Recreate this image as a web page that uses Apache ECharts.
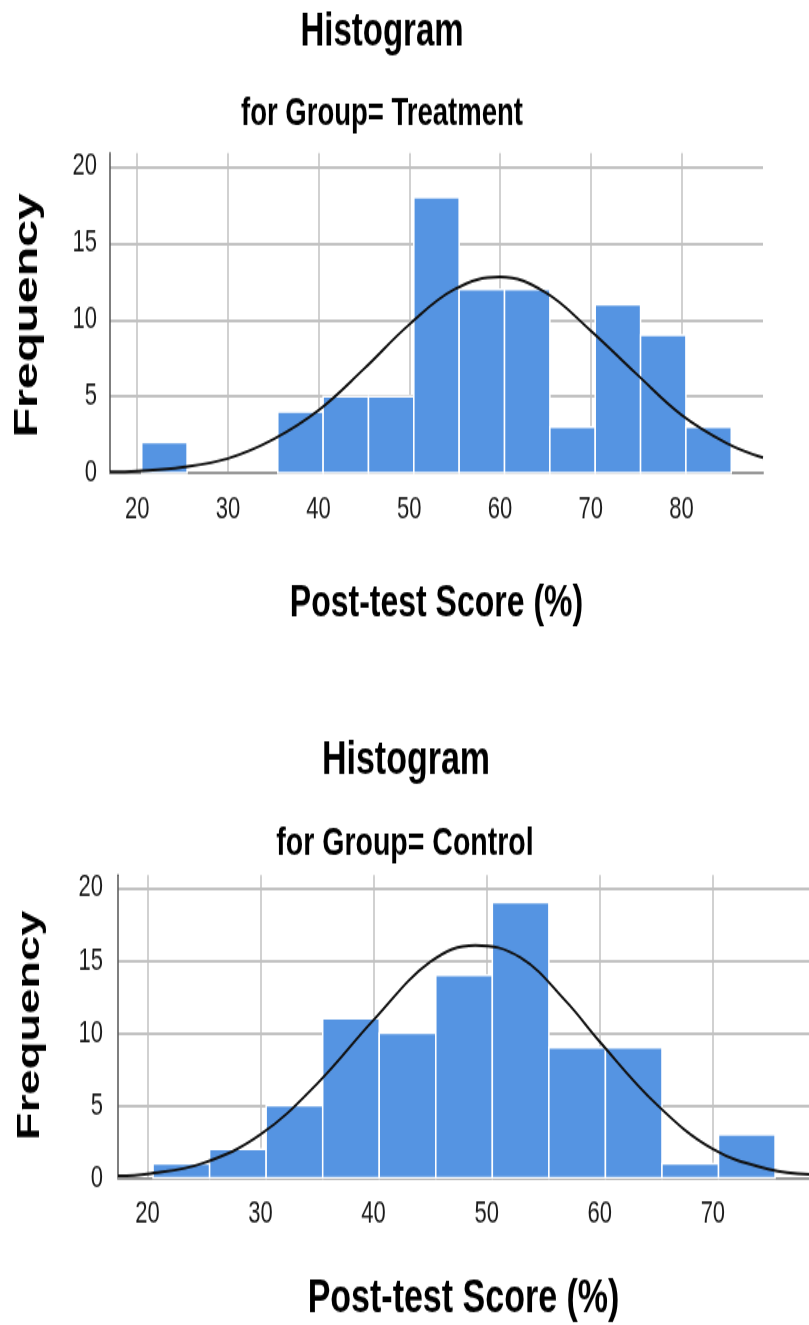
<!DOCTYPE html>
<html>
<head>
<meta charset="utf-8">
<script src="https://cdn.jsdelivr.net/npm/echarts@6/dist/echarts.min.js"></script>
<style>
  html, body { margin: 0; padding: 0; background: #fff; overflow: hidden; }
  #wrap { width: 809px; height: 1325px; overflow: hidden; }
  #chart { width: 809px; height: 933px; transform: scaleY(1.42); transform-origin: 0 0; }
</style>
</head>
<body>
<div id="wrap"><div id="chart"></div></div>
<script>
// ---- Data ----
const BIN_WIDTH = 5;
const treatmentBinStarts = [20.5, 25.5, 30.5, 35.5, 40.5, 45.5, 50.5, 55.5, 60.5, 65.5, 70.5, 75.5, 80.5];
const treatmentCounts    = [2, 0, 0, 4, 5, 5, 18, 12, 12, 3, 11, 9, 3];
const controlBinStarts   = [20.5, 25.5, 30.5, 35.5, 40.5, 45.5, 50.5, 55.5, 60.5, 65.5, 70.5];
const controlCounts      = [1, 2, 5, 11, 10, 14, 19, 9, 9, 1, 3];
// normal curve points: [score, frequency]
const treatmentCurve = [[17,0.07],[20,0.13],[25,0.38],[30,0.95],[35,2.2],[40,4.1],[45,6.8],[50,9.7],[55,12.0],[60,12.8],[65,11.8],[70,9.3],[75,6.5],[80,3.8],[85,1.95],[89,1.0]];
const controlCurve   = [[17.4,0.15],[20,0.28],[25,1.05],[30,3.0],[35,6.5],[40,10.9],[45,14.9],[49,16.05],[53,15.2],[57,12.2],[60,9.4],[65,5.1],[70,2.0],[75,0.6],[78.5,0.25]];
const titleText = 'Histogram';
const treatmentSubtitle = 'for Group= Treatment';
const controlSubtitle = 'for Group= Control';
const xTitle = 'Post-test Score (%)';
const yTitle = 'Frequency';

// ---- Build ----
const FONT = "'Liberation Sans', Arial, Helvetica, sans-serif";
function binData(starts, counts) {
  const out = [];
  starts.forEach((s, i) => { if (counts[i] > 0) out.push([s, s + BIN_WIDTH, counts[i]]); });
  return out;
}
function renderBar(params, api) {
  const x0 = api.value(0), x1 = api.value(1), c = api.value(2);
  const p0 = api.coord([x0, c]);
  const p1 = api.coord([x1, 0]);
  return {
    type: 'rect',
    shape: { x: p0[0], y: p0[1], width: p1[0] - p0[0], height: p1[1] - p0[1] },
    style: { fill: '#5594e2', stroke: '#ffffff', lineWidth: 1.5 }
  };
}
function xAxisCfg(idx, min, max, gap, nameSize, margin) {
  return {
    type: 'value', gridIndex: idx, min: min, max: max,
    name: xTitle, nameLocation: 'middle', nameGap: gap,
    nameTextStyle: { fontFamily: FONT, fontWeight: 'bold', fontSize: nameSize, color: '#000' },
    axisLine: { show: true, onZero: false, lineStyle: { color: '#999', width: 2 } },
    axisTick: { show: false },
    axisLabel: { fontFamily: FONT, fontSize: 22, color: '#1a1a1a', margin: margin, showMinLabel: false, showMaxLabel: false },
    splitLine: { show: true, showMinLine: false, showMaxLine: false, lineStyle: { color: '#c2c2c2', width: 1.5 } }
  };
}
function yAxisCfg(idx, margin) {
  return {
    type: 'value', gridIndex: idx, min: 0, max: 20.9, interval: 5,
    axisLine: { show: true, lineStyle: { color: '#555', width: 1.5 } },
    axisTick: { show: false },
    axisLabel: { fontFamily: FONT, fontSize: 22, color: '#1a1a1a', margin: margin, showMaxLabel: false },
    splitLine: { show: true, showMinLine: false, showMaxLine: false, lineStyle: { color: '#c2c2c2', width: 2 } }
  };
}
function txt(text, x, y, size, rot) {
  return {
    type: 'text', x: x, y: y, rotation: rot || 0,
    style: { text: text, fill: '#000', font: 'bold ' + size + 'px ' + FONT, textAlign: 'center', textVerticalAlign: 'middle' }
  };
}

const chart = echarts.init(document.getElementById('chart'), null, { renderer: 'canvas' });
chart.setOption({
  animation: false,
  backgroundColor: '#fff',
  grid: [
    { left: 110, right: 46, top: 107.7, height: 225.4 },
    { left: 118, right: 0, top: 616.2, height: 213.4 }
  ],
  xAxis: [xAxisCfg(0, 17, 89, 76, 32, 15), xAxisCfg(1, 17.4, 78.5, 68, 34, 14)],
  yAxis: [yAxisCfg(0, 13), yAxisCfg(1, 15)],
  graphic: [
    txt(titleText, 382, 22.5, 33),
    txt(treatmentSubtitle, 382, 80.5, 27.5),
    txt(yTitle, 28, 222, 34, Math.PI / 2),
    txt(titleText, 406, 536, 34),
    txt(controlSubtitle, 405, 594, 28.5),
    txt(yTitle, 30, 722, 32, Math.PI / 2)
  ],
  series: [
    { type: 'custom', xAxisIndex: 0, yAxisIndex: 0, renderItem: renderBar, encode: { x: [0, 1], y: 2 }, data: binData(treatmentBinStarts, treatmentCounts), z: 2 },
    { type: 'line', xAxisIndex: 0, yAxisIndex: 0, data: treatmentCurve, smooth: 0.4, showSymbol: false, lineStyle: { color: '#111', width: 2 }, z: 3 },
    { type: 'custom', xAxisIndex: 1, yAxisIndex: 1, renderItem: renderBar, encode: { x: [0, 1], y: 2 }, data: binData(controlBinStarts, controlCounts), z: 2 },
    { type: 'line', xAxisIndex: 1, yAxisIndex: 1, data: controlCurve, smooth: 0.4, showSymbol: false, lineStyle: { color: '#111', width: 2 }, z: 3 }
  ]
});
</script>
</body>
</html>
